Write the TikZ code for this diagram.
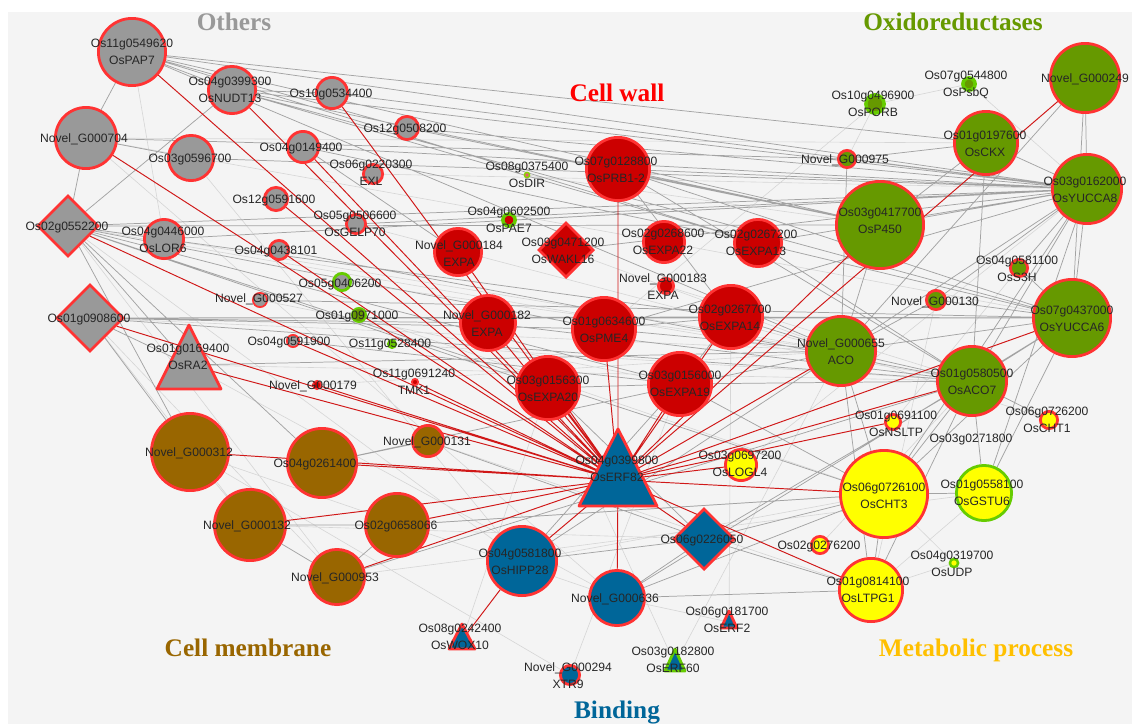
\documentclass[tikz,border=0pt]{standalone}
\usepackage{fontspec}
\setmainfont{Liberation Serif}
\setsansfont{Liberation Sans}
\usetikzlibrary{shapes.geometric}
\pgfdeclarelayer{bg}
\pgfsetlayers{bg,main}
\definecolor{bgc}{HTML}{F4F4F4}
\definecolor{bdred}{HTML}{FF3333}
\definecolor{bdgreen}{HTML}{66CC00}
\definecolor{othgray}{HTML}{999999}
\definecolor{cwall}{HTML}{CC0000}
\definecolor{oxgreen}{HTML}{669900}
\definecolor{cmbrown}{HTML}{996600}
\definecolor{bindblue}{HTML}{006699}
\definecolor{metyel}{HTML}{FFFF00}
\definecolor{metlab}{HTML}{FFC000}
\definecolor{edgered}{HTML}{D01818}
\tikzset{
  nd/.style={circle, draw=bdred, line width=1.6pt, inner sep=0pt, minimum size={#1*0.04cm-1.6pt}},
  sm/.style={circle, draw=bdred, line width=1pt, inner sep=0pt, minimum size={#1*0.04cm-1pt}},
  dm/.style={diamond, aspect=1, draw=bdred, line width=1.6pt, inner sep=0pt, minimum size={#1*0.04cm-1.6pt}},
  tr/.style={draw=bdred, line width=1.6pt, line join=round},
  lbl/.style={font=\sffamily\fontsize{6.9}{9.7}\selectfont, align=center, text=black!85, inner sep=0pt, text depth=0pt},
  grp/.style={font=\bfseries\fontsize{14.4}{16}\selectfont, inner sep=0pt, text depth=0pt},
  gl/.style={draw=black!36, line width=0.42pt},
  ll/.style={draw=black!16, line width=0.35pt},
  rl/.style={draw=edgered, line width=0.55pt},
}

\begin{document}
\begin{tikzpicture}[x=0.02cm, y=-0.02cm]
  \useasboundingbox (0,0) rectangle (1132,724);
  \begin{pgfonlayer}{bg}
    \fill[bgc] (8,12) rectangle (1132,724);
  \end{pgfonlayer}

  %%%%% group titles %%%%%
  \node[grp, text=othgray] (tothers) at (234,22) {Others};
  \node[grp, text=red] (twall) at (617,93) {Cell wall};
  \node[grp, text=oxgreen] (toxid) at (953,22) {Oxidoreductases};
  \node[grp, text=cmbrown] (tmemb) at (248,648) {Cell membrane};
  \node[grp, text=bindblue] (tbind) at (617,710) {Binding};
  \node[grp, text=metlab] (tmeta) at (976,648) {Metabolic process};

  %%%%% Others %%%%%
  \node[nd=35, fill=othgray] (pap7) at (132,52) {};
  \node[nd=25, fill=othgray] (nudt13) at (232,90) {};
  \node[nd=32, fill=othgray] (nov704) at (86,138) {};
  \node[nd=24, fill=othgray] (g0596700) at (191,158) {};
  \node[dm=32, fill=othgray] (g0552200) at (68,226) {};
  \node[nd=21, fill=othgray] (lor6) at (164,239) {};
  \node[nd=17, fill=othgray] (g0534400) at (332,93) {};
  \node[nd=13, fill=othgray] (g0508200) at (407,128) {};
  \node[nd=17, fill=othgray] (g0149400) at (303,147) {};
  \node[nd=11, fill=othgray] (exl) at (373,174) {};
  \node[nd=13, fill=othgray] (g0591600) at (276,199) {};
  \node[nd=11, fill=othgray] (gelp70) at (356,224) {};
  \node[nd=11, fill=othgray] (g0438101) at (279,250) {};
  \node[sm=8, fill=othgray] (nov527) at (260,300) {};
  \node[nd=10, fill=othgray, draw=bdgreen] (g0406200) at (342,282) {};
  \node[sm=8, fill=oxgreen, draw=bdgreen] (g0971000) at (359,315) {};
  \node[sm=7, fill=othgray] (g0591900) at (293,341) {};
  \node[sm=5, fill=bdgreen!80!oxgreen, draw=bdgreen] (g0528400) at (392,344) {};
  \node[sm=4, fill=cwall] (tmk1) at (415,382) {};
  \node[sm=5, fill=cwall] (nov179) at (317,385) {};
  \node[dm=35, fill=othgray] (g0908600) at (90,318) {};
  \coordinate (ra2) at (189,365);
  \filldraw[tr, fill=othgray] (189,325) -- (221,389) -- (157,389) -- cycle;

  \node[lbl] (tpap7) at (132,52) {Os11g0549620\\OsPAP7};
  \node[lbl] (tnudt13) at (230,90) {Os04g0399300\\OsNUDT13};
  \node[lbl] (tnov704) at (84,138) {Novel\_G000704};
  \node[lbl] (tg0596700) at (190,158) {Os03g0596700};
  \node[lbl] (tg0552200) at (67,226) {Os02g0552200};
  \node[lbl] (tlor6) at (163,240) {Os04g0446000\\OsLOR6};
  \node[lbl] (tg0534400) at (331,93) {Os10g0534400};
  \node[lbl] (tg0508200) at (405,128) {Os12g0508200};
  \node[lbl] (tg0149400) at (301,147) {Os04g0149400};
  \node[lbl] (texl) at (371,172.5) {Os06g0220300\\EXL};
  \node[lbl] (tg0591600) at (274,199) {Os12g0591600};
  \node[lbl] (tgelp70) at (355,223.5) {Os05g0506600\\OsGELP70};
  \node[lbl] (tg0438101) at (276,250) {Os04g0438101};
  \node[lbl] (tnov527) at (259,298) {Novel\_G000527};
  \node[lbl] (tg0406200) at (340,283) {Os05g0406200};
  \node[lbl] (tg0971000) at (357,315) {Os01g0971000};
  \node[lbl] (tg0591900) at (289,341) {Os04g0591900};
  \node[lbl] (tg0528400) at (390,343) {Os11g0528400};
  \node[lbl] (ttmk1) at (414,381.5) {Os11g0691240\\TMK1};
  \node[lbl] (tnov179) at (313,385) {Novel\_G000179};
  \node[lbl] (tg0908600) at (89,318) {Os01g0908600};
  \node[lbl] (tra2) at (188,357) {Os01g0169400\\OsRA2};

  %%%%% Cell membrane %%%%%
  \node[nd=40, fill=cmbrown] (nov312) at (190,452) {};
  \node[nd=36, fill=cmbrown] (g0261400) at (322,463) {};
  \node[nd=17, fill=cmbrown] (nov131) at (428,441) {};
  \node[nd=37, fill=cmbrown] (nov132) at (250,525) {};
  \node[nd=33, fill=cmbrown] (g0658066) at (397,525) {};
  \node[nd=29, fill=cmbrown] (nov953) at (337,577) {};

  \node[lbl] (tnov312) at (189,452) {Novel\_G000312};
  \node[lbl] (tg0261400) at (315,463) {Os04g0261400};
  \node[lbl] (tnov131) at (427,441) {Novel\_G000131};
  \node[lbl] (tnov132) at (247,525) {Novel\_G000132};
  \node[lbl] (tg0658066) at (396,525) {Os02g0658066};
  \node[lbl] (tnov953) at (335,577) {Novel\_G000953};

  %%%%% Cell wall %%%%%
  \node[nd=33, fill=cwall] (prb1) at (618,169) {};
  \node[sm=7, fill=cwall, draw=bdgreen, line width=2pt] (pae7) at (509,220) {};
  \node[sm=3.5, fill=cwall!60!white, draw=bdgreen!80!yellow, line width=0.8pt] (dir) at (527,175) {};
  \node[dm=29, fill=cwall] (wakl16) at (566,250) {};
  \node[nd=25, fill=cwall] (nov184) at (458,252) {};
  \node[nd=22, fill=cwall] (expa22) at (664,242) {};
  \node[nd=25, fill=cwall] (expa13) at (758,243) {};
  \node[nd=9, fill=cwall] (nov183) at (666,286) {};
  \node[nd=33, fill=cwall] (expa14) at (731,317) {};
  \node[nd=33, fill=cwall] (pme4) at (604,329) {};
  \node[nd=29, fill=cwall] (nov182) at (488,323) {};
  \node[nd=33, fill=cwall] (expa20) at (548,388) {};
  \node[nd=33, fill=cwall] (expa19) at (680,384) {};

  \node[lbl] (tprb1) at (616,169.5) {Os07g0128800\\OsPRB1-2};
  \node[lbl] (tpae7) at (509,219.5) {Os04g0602500\\OsPAE7};
  \node[lbl] (tdir) at (527,174.5) {Os08g0375400\\OsDIR};
  \node[lbl] (twakl16) at (563,250.5) {Os09g0471200\\OsWAKL16};
  \node[lbl] (tnov184) at (459,253.5) {Novel\_G000184\\EXPA};
  \node[lbl] (texpa22) at (663,241.5) {Os02g0268600\\OsEXPA22};
  \node[lbl] (texpa13) at (756,243) {Os02g0267200\\OsEXPA13};
  \node[lbl] (tnov183) at (663,286.5) {Novel\_G000183\\EXPA};
  \node[lbl] (texpa14) at (730,317.5) {Os02g0267700\\OsEXPA14};
  \node[lbl] (tpme4) at (604,329.5) {Os01g0634600\\OsPME4};
  \node[lbl] (tnov182) at (487,323.5) {Novel\_G000182\\EXPA};
  \node[lbl] (texpa20) at (548,388.5) {Os03g0156300\\OsEXPA20};
  \node[lbl] (texpa19) at (680,383.5) {Os03g0156000\\OsEXPA19};

  %%%%% Oxidoreductases %%%%%
  \node[nd=36, fill=oxgreen] (nov249) at (1085,78) {};
  \node[sm=7, fill=oxgreen, draw=bdgreen, line width=2pt] (psbq) at (969,84) {};
  \node[sm=10, fill=oxgreen, draw=bdgreen, line width=2pt] (porb) at (875,104) {};
  \node[nd=10, fill=oxgreen] (nov975) at (847,159) {};
  \node[nd=33, fill=oxgreen] (ckx) at (986,143) {};
  \node[nd=36, fill=oxgreen] (yucca8) at (1087,189) {};
  \node[nd=45, fill=oxgreen] (p450) at (880,225) {};
  \node[nd=10, fill=oxgreen] (s3h) at (1019,268) {};
  \node[nd=40, fill=oxgreen] (yucca6) at (1072,318) {};
  \node[nd=11, fill=oxgreen] (nov130) at (936,300) {};
  \node[nd=36, fill=oxgreen] (aco) at (841,351) {};
  \node[nd=36, fill=oxgreen] (aco7) at (972,381) {};

  \node[lbl] (tnov249) at (1085,78) {Novel\_G000249};
  \node[lbl] (tpsbq) at (966,84) {Os07g0544800\\OsPsbQ};
  \node[lbl] (tporb) at (873,103.5) {Os10g0496900\\OsPORB};
  \node[lbl] (tnov975) at (845,159) {Novel\_G000975};
  \node[lbl] (tckx) at (985,143.5) {Os01g0197600\\OsCKX};
  \node[lbl] (tyucca8) at (1085,189.5) {Os03g0162000\\OsYUCCA8};
  \node[lbl] (tp450) at (880,220.5) {Os03g0417700\\OsP450};
  \node[lbl] (ts3h) at (1017,268.5) {Os04g0581100\\OsS3H};
  \node[lbl] (tyucca6) at (1072,318.5) {Os07g0437000\\OsYUCCA6};
  \node[lbl] (tnov130) at (935,301) {Novel\_G000130};
  \node[lbl] (taco) at (841,351.5) {Novel\_G000655\\ACO};
  \node[lbl] (taco7) at (972,381.5) {Os01g0580500\\OsACO7};

  %%%%% Metabolic process %%%%%
  \node[nd=9, fill=metyel] (nsltp) at (893,422) {};
  \node[nd=10, fill=metyel] (cht1) at (1049,420) {};
  \node[nd=45, fill=metyel] (cht3) at (884,494) {};
  \node[nd=29, fill=metyel, draw=bdgreen] (gstu6) at (984,493) {};
  \node[sm=5, fill=metyel, draw=bdgreen, line width=1.4pt] (udp) at (954,563) {};
  \node[nd=33, fill=metyel] (ltpg1) at (871,590) {};
  \node[nd=10, fill=metyel] (g0276200) at (820,545) {};
  \node[nd=17, fill=metyel] (logl4) at (741,465) {};

  \node[lbl] (tnsltp) at (896,423.5) {Os01g0691100\\OsNSLTP};
  \node[lbl] (tcht1) at (1047,419.5) {Os06g0726200\\OsCHT1};
  \node[lbl] (tg0271800) at (971,438) {Os03g0271800};
  \node[lbl] (tcht3) at (884,495.5) {Os06g0726100\\OsCHT3};
  \node[lbl] (tgstu6) at (982,493) {Os01g0558100\\OsGSTU6};
  \node[lbl] (tudp) at (952,563.5) {Os04g0319700\\OsUDP};
  \node[lbl] (tltpg1) at (868,590) {Os01g0814100\\OsLTPG1};
  \node[lbl] (tg0276200) at (819,545) {Os02g0276200};
  \node[lbl] (tlogl4) at (740,463.5) {Os03g0697200\\OsLOGL4};

  %%%%% Binding %%%%%
  \coordinate (erf82) at (618,480);
  \filldraw[tr, fill=bindblue] (618,429) -- (657,506) -- (579,506) -- cycle;
  \node[dm=32, fill=bindblue] (g0226050) at (704,539) {};
  \node[nd=36, fill=bindblue] (hipp28) at (522,561) {};
  \node[nd=29, fill=bindblue] (nov636) at (617,598) {};
  \coordinate (wox10) at (462,640);
  \filldraw[tr, fill=bindblue] (462,624) -- (475,649) -- (449,649) -- cycle;
  \coordinate (erf2) at (729,622);
  \filldraw[tr, fill=bindblue] (729,611) -- (737,628) -- (721,628) -- cycle;
  \coordinate (erf60) at (675,664);
  \filldraw[tr, fill=bindblue, draw=bdgreen] (675,649) -- (685,671) -- (665,671) -- cycle;
  \node[nd=11, fill=bindblue] (xtr9) at (570,675) {};

  \node[lbl] (terf82) at (617,468.5) {Os04g0399800\\OsERF82};
  \node[lbl] (tg0226050) at (702,539) {Os06g0226050};
  \node[lbl] (thipp28) at (520,561.5) {Os04g0581800\\OsHIPP28};
  \node[lbl] (tnov636) at (615,598) {Novel\_G000636};
  \node[lbl] (twox10) at (460,636.5) {Os08g0242400\\OsWOX10};
  \node[lbl] (terf2) at (727,619.5) {Os06g0181700\\OsERF2};
  \node[lbl] (terf60) at (673,659.5) {Os03g0182800\\OsERF60};
  \node[lbl] (txtr9) at (568,675.5) {Novel\_G000294\\XTR9};

  %%%%% edges %%%%%
  \begin{pgfonlayer}{bg}
    % light
    \draw[ll] (ra2) -- (nov636) (nov704) -- (nov636) (g0908600) -- (nov953) (g0596700) -- (hipp28)
      (nov312) -- (nov636) (erf60) -- (expa20) (xtr9) -- (nov312) (erf2) -- (nov636) (wox10) -- (expa20)
      (psbq) -- (porb) (porb) -- (nov975) (nov704) -- (expa22) (nov704) -- (ckx) (pap7) -- (lor6)
      (g0552200) -- (nov953) (g0552200) -- (hipp28) (g0908600) -- (nov132) (lor6) -- (aco)
      (ltpg1) -- (udp) (cht3) -- (udp) (gstu6) -- (ltpg1) (dir) -- (p450) (pae7) -- (yucca8)
      (nov183) -- (aco7) (expa22) -- (yucca6) (wakl16) -- (aco) (g0406200) -- (aco) (g0971000) -- (cht3)
      (g0528400) -- (aco7) (nov527) -- (expa19) (exl) -- (yucca8) (gelp70) -- (aco) (nov131) -- (ltpg1)
      (g0658066) -- (cht3) (nov953) -- (gstu6) (nov132) -- (g0226050) (hipp28) -- (cht3) (xtr9) -- (expa19)
      (erf60) -- (aco) (erf2) -- (expa14) (psbq) -- (yucca8) (porb) -- (pme4) (s3h) -- (nsltp)
      (nov130) -- (ltpg1) (cht1) -- (aco) (logl4) -- (yucca8) (g0276200) -- (aco7) (nov179) -- (aco)
      (g0552200) -- (aco7) (g0908600) -- (aco) (ra2) -- (aco7) (nov312) -- (nov132);
    % grey
    \draw[gl] (pap7) -- (nudt13) (pap7) -- (nov704) (pap7) -- (yucca8) (pap7) -- (p450) (pap7) -- (ckx)
      (pap7) -- (g0508200) (pap7) -- (expa13) (pap7) -- (aco)
      (nudt13) -- (yucca8) (nudt13) -- (p450) (nudt13) -- (g0552200) (nudt13) -- (expa13) (nudt13) -- (yucca6)
      (nov704) -- (g0552200) (nov704) -- (g0596700) (nov704) -- (nov975)
      (g0552200) -- (lor6) (g0552200) -- (yucca8) (g0552200) -- (p450) (g0552200) -- (pme4)
      (g0552200) -- (expa20) (g0552200) -- (ra2) (g0552200) -- (nov312) (g0552200) -- (g0261400)
      (g0552200) -- (cht3) (g0552200) -- (expa19) (g0552200) -- (expa14)
      (g0908600) -- (yucca6) (g0908600) -- (aco7) (g0908600) -- (ra2)
      (g0908600) -- (nov312) (g0908600) -- (pme4) (g0908600) -- (expa14) (g0908600) -- (nov182)
      (ra2) -- (aco)
      (g0149400) -- (nov184) (g0149400) -- (yucca8) (g0149400) -- (expa13)
      (g0508200) -- (yucca8) (g0508200) -- (p450) (g0534400) -- (yucca8) (gelp70) -- (yucca8)
      (nov975) -- (yucca8) (nov975) -- (ckx) (nov975) -- (aco)
      (prb1) -- (yucca8) (prb1) -- (p450) (prb1) -- (yucca6) (prb1) -- (aco7) (prb1) -- (expa14)
      (pme4) -- (yucca8) (pme4) -- (aco) (pme4) -- (expa14) (nov182) -- (aco7)
      (expa13) -- (yucca8) (expa13) -- (aco7) (expa13) -- (yucca6)
      (expa14) -- (aco) (expa14) -- (yucca6)
      (expa19) -- (aco7) (expa19) -- (cht3) (expa19) -- (expa14)
      (expa20) -- (expa19) (expa20) -- (g0226050) (wakl16) -- (yucca8)
      (nov249) -- (yucca8) (nov249) -- (aco) (nov249) -- (yucca6)
      (ckx) -- (p450) (ckx) -- (yucca8) (ckx) -- (aco7)
      (yucca8) -- (aco7) (yucca8) -- (yucca6) (yucca8) -- (s3h) (yucca8) -- (aco) (yucca8) -- (nov130)
      (yucca8) -- (cht3) (yucca8) -- (gstu6) (yucca8) -- (p450)
      (yucca6) -- (aco7) (yucca6) -- (gstu6) (yucca6) -- (cht3) (yucca6) -- (s3h) (yucca6) -- (nov130)
      (yucca6) -- (aco)
      (aco7) -- (gstu6) (aco7) -- (cht3) (aco7) -- (cht1) (aco7) -- (ltpg1)
      (aco) -- (cht3) (aco) -- (aco7) (aco) -- (ltpg1) (aco) -- (nov130) (aco) -- (p450)
      (cht3) -- (ltpg1) (cht3) -- (gstu6) (cht3) -- (g0226050) (cht3) -- (nov636)
      (ltpg1) -- (g0226050) (g0226050) -- (nov636) (g0226050) -- (hipp28) (g0226050) -- (aco7)
      (nov636) -- (ltpg1) (nov636) -- (yucca6) (hipp28) -- (expa19) (hipp28) -- (aco)
      (nov132) -- (g0658066) (nov132) -- (nov953) (nov953) -- (g0658066) (nov953) -- (aco7)
      (g0261400) -- (aco) (g0261400) -- (nov131) (nov131) -- (g0226050) (g0658066) -- (cht3)
      (g0596700) -- (yucca8) (lor6) -- (yucca8) (nudt13) -- (g0534400)
      (g0438101) -- (aco7) (nov527) -- (yucca6) (g0591900) -- (expa19);
    % red
    \draw[rl] (erf82) -- (pap7) (erf82) -- (nudt13) (erf82) -- (nov704) (erf82) -- (g0552200)
      (erf82) -- (g0908600) (erf82) -- (ra2) (erf82) -- (g0149400) (erf82) -- (g0591600)
      (erf82) -- (g0534400) (erf82) -- (g0438101) (erf82) -- (g0591900) (erf82) -- (nov179)
      (erf82) -- (nov312) (erf82) -- (g0261400) (erf82) -- (nov132) (erf82) -- (g0658066)
      (erf82) -- (nov953) (erf82) -- (hipp28) (erf82) -- (nov636) (erf82) -- (g0226050)
      (erf82) -- (ltpg1) (erf82) -- (cht3) (erf82) -- (aco7) (erf82) -- (yucca6) (erf82) -- (aco)
      (erf82) -- (nov249) (erf82) -- (expa19) (erf82) -- (expa20) (erf82) -- (pme4)
      (erf82) -- (nov182) (erf82) -- (nov184) (erf82) -- (prb1) (erf82) -- (logl4)
      (erf82) -- (nsltp) (erf82) -- (expa14) (erf82) -- (p450) (erf82) -- (tmk1)
      (hipp28) -- (wox10);
  \end{pgfonlayer}
\end{tikzpicture}
\end{document}
